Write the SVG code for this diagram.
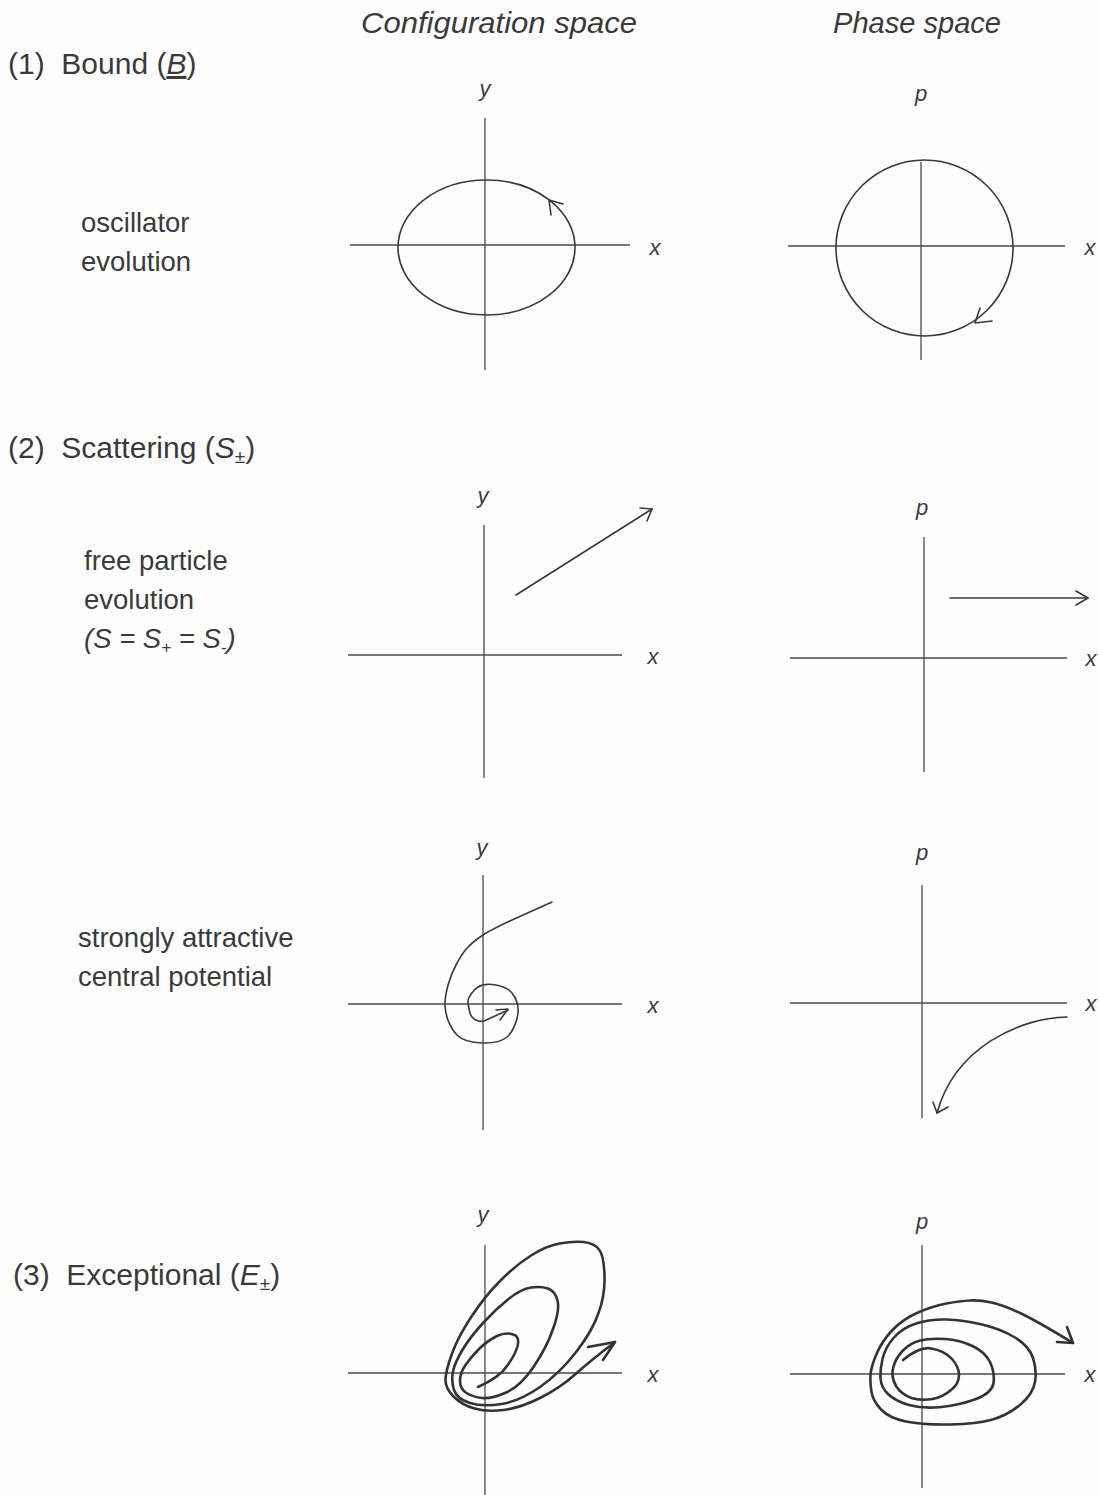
<svg xmlns="http://www.w3.org/2000/svg" width="1099" height="1495" viewBox="0 0 1099 1495">
<style>
.bg{fill:#fdfdfd}
.hd{font-family:"Liberation Sans",Arial,sans-serif;font-style:italic;font-size:30px;fill:#3a3a3a}
.sec{font-family:"Liberation Sans",Arial,sans-serif;font-size:30px;fill:#3a3a3a;white-space:pre}
.lbl{font-family:"Liberation Sans",Arial,sans-serif;font-size:27.5px;fill:#3a3a3a}
.ax{font-family:"Liberation Sans",Arial,sans-serif;font-style:italic;font-size:22px;fill:#3a3a3a;text-anchor:middle}
.axis{stroke:#4a4a4a;stroke-width:1.3;fill:none}
.cv{stroke:#383838;stroke-width:1.6;fill:none;stroke-linecap:round;stroke-linejoin:round}
.cv2{stroke:#333;stroke-width:2.6;fill:none;stroke-linecap:round;stroke-linejoin:round}
</style>
<rect class="bg" x="0" y="0" width="1099" height="1495"/>

<g id="headers">
<text class="hd" x="361" y="33" textLength="276" lengthAdjust="spacingAndGlyphs">Configuration space</text>
<text class="hd" x="833" y="33" textLength="168" lengthAdjust="spacingAndGlyphs">Phase space</text>
</g>

<g id="labels">
<text class="sec" x="8" y="74" xml:space="preserve">(1)  Bound (<tspan font-style="italic" text-decoration="underline">B</tspan>)</text>
<text class="lbl" x="81" y="232">oscillator</text>
<text class="lbl" x="81" y="271">evolution</text>
<text class="sec" x="8" y="458" xml:space="preserve">(2)  Scattering (<tspan font-style="italic">S</tspan><tspan font-size="19" dy="5">±</tspan><tspan dy="-5">)</tspan></text>
<text class="lbl" x="84" y="570">free particle</text>
<text class="lbl" x="84" y="609">evolution</text>
<text class="lbl" x="84" y="648" font-style="italic">(S = S<tspan font-size="17" dy="5">+</tspan><tspan dy="-5"> = S</tspan><tspan font-size="17" dy="5">-</tspan><tspan dy="-5">)</tspan></text>
<text class="lbl" x="78" y="947">strongly attractive</text>
<text class="lbl" x="78" y="986">central potential</text>
<text class="sec" x="13" y="1285" xml:space="preserve">(3)  Exceptional (<tspan font-style="italic">E</tspan><tspan font-size="19" dy="5">±</tspan><tspan dy="-5">)</tspan></text>
</g>

<g id="bound-config">
<line class="axis" x1="485" y1="118" x2="485" y2="370"/>
<line class="axis" x1="350" y1="245" x2="630" y2="245"/>
<text class="ax" x="485" y="96">y</text>
<text class="ax" x="655" y="255">x</text>
<ellipse class="cv" cx="486.5" cy="247.5" rx="88.5" ry="67.5"/>
<polyline class="cv" points="563,204 549,200 551,215"/>
</g>

<g id="bound-phase">
<line class="axis" x1="921" y1="162" x2="921" y2="360"/>
<line class="axis" x1="788" y1="246" x2="1065" y2="246"/>
<text class="ax" x="921" y="101">p</text>
<text class="ax" x="1090" y="255">x</text>
<ellipse class="cv" cx="924.5" cy="248" rx="88.5" ry="88"/>
<polyline class="cv" points="980,308 975,323 992,321"/>
</g>

<g id="free-config">
<line class="axis" x1="484" y1="525" x2="484" y2="778"/>
<line class="axis" x1="348" y1="655" x2="622" y2="655"/>
<text class="ax" x="483" y="503">y</text>
<text class="ax" x="653" y="664">x</text>
<line class="cv" x1="516" y1="595" x2="652" y2="509"/>
<polyline class="cv" points="640,508 652,509 647,521"/>
</g>

<g id="free-phase">
<line class="axis" x1="924" y1="537" x2="924" y2="772"/>
<line class="axis" x1="790" y1="658" x2="1067" y2="658"/>
<text class="ax" x="922" y="515">p</text>
<text class="ax" x="1091" y="666">x</text>
<line class="cv" x1="950" y1="598" x2="1088" y2="598"/>
<polyline class="cv" points="1076,591 1088,598 1076,605"/>
</g>

<g id="attractive-config">
<line class="axis" x1="483" y1="875" x2="483" y2="1130"/>
<line class="axis" x1="348" y1="1004" x2="622" y2="1004"/>
<text class="ax" x="482" y="855">y</text>
<text class="ax" x="653" y="1013">x</text>
<path class="cv" d="M552,902 C540.5,907.5 499,924.5 483,935 C467,945.5 462.3,953.3 456,965 C449.7,976.7 444.8,993.3 445,1005 C445.2,1016.7 450.8,1028.7 457,1035 C463.2,1041.3 473.7,1042.7 482,1043 C490.3,1043.3 501,1042 507,1037 C513,1032 517.2,1020.3 518,1013 C518.8,1005.7 515.7,997.7 512,993 C508.3,988.3 501.7,986 496,985 C490.3,984 482.7,984 478,987 C473.3,990 467,998 468,1003 C469,1008 469.3,1014 472,1017 C474.7,1020 478,1022.3 484,1021 L508,1010"/>
<polyline class="cv" points="496,1010 508,1009 500,1020"/>
</g>

<g id="attractive-phase">
<line class="axis" x1="922" y1="885" x2="922" y2="1118"/>
<line class="axis" x1="790" y1="1003" x2="1067" y2="1003"/>
<text class="ax" x="922" y="860">p</text>
<text class="ax" x="1091" y="1011">x</text>
<path class="cv" d="M1067,1017 C1020,1018 955,1047 937,1113"/>
<polyline class="cv" points="933,1102 937,1113 948,1107"/>
</g>

<g id="exceptional-config">
<line class="axis" x1="485" y1="1245" x2="485" y2="1495"/>
<line class="axis" x1="348" y1="1373" x2="622" y2="1373"/>
<text class="ax" x="483" y="1222">y</text>
<text class="ax" x="653" y="1382">x</text>
<path class="cv2" d="M478,1387 Q500,1377 507,1366 Q515,1355 517.5,1346.5 Q520,1336 513,1334.5 Q506,1332 497,1336 Q487,1341 479,1349 Q471,1357 465.5,1365 Q460,1373 460,1381 Q460,1389 466.5,1393 Q473,1397 482,1398 Q491,1399 505,1393 Q520,1387 533.5,1367 Q547,1347 553,1329 Q560,1310 557.5,1300.5 Q555,1291 548,1288.5 Q541,1286 531,1287.5 Q521,1289 508.5,1299 Q496,1309 483.5,1322.5 Q471,1336 463,1349 Q455,1362 453,1371.5 Q451,1381 454,1390 Q457,1399 470,1403 Q483,1407 501.5,1404 Q520,1401 540,1387 Q560,1373 576.5,1351.5 Q593,1330 598.5,1313 Q605,1296 604.5,1276.5 Q604,1255 599,1249.5 Q594,1243 583.5,1242 Q573,1241 559.5,1243.5 Q546,1246 531,1255.5 Q516,1265 500.5,1280.5 Q485,1296 471.5,1316.5 Q458,1337 452,1353.5 Q446,1370 445.5,1379 Q445,1388 453.5,1396.5 Q462,1405 474.5,1408.5 Q487,1412 503.5,1410 Q520,1408 540,1398 Q560,1388 575,1374.5 Q590,1361 615,1342"/>
<polyline class="cv2" points="588,1347 615,1342 603,1360"/>
</g>

<g id="exceptional-phase">
<line class="axis" x1="922" y1="1245" x2="922" y2="1488"/>
<line class="axis" x1="790" y1="1374" x2="1065" y2="1374"/>
<text class="ax" x="922" y="1229">p</text>
<text class="ax" x="1090" y="1382">x</text>
<path class="cv2" d="M903,1360 Q920,1346 931.5,1348.5 Q945,1351 952,1359 Q959,1367 959,1375 Q959,1384 951,1390 Q943,1397 932.5,1399 Q922,1401 911.5,1398 Q901,1394 896,1386 Q891,1377 893,1368.5 Q895,1359 902.5,1351 Q910,1343 920,1340.5 Q930,1338 945,1339 Q960,1340 972.5,1346 Q985,1352 990,1362 Q995,1373 993.5,1383 Q992,1393 976,1399 Q960,1405 941.5,1407 Q923,1409 909,1405 Q895,1401 888,1394 Q881,1387 880.5,1378.5 Q880,1370 882.5,1359 Q885,1348 893.5,1338 Q902,1328 916,1323.5 Q930,1319 946.5,1319.5 Q963,1320 982,1324.5 Q1001,1329 1015,1337.5 Q1029,1346 1033,1358 Q1037,1370 1035,1382 Q1033,1394 1020.5,1404.5 Q1008,1415 992.5,1419.5 Q977,1424 950,1424.5 Q923,1425 906,1421.5 Q889,1418 881,1409.5 Q873,1401 871.5,1392 Q870,1383 870.5,1375 Q871,1367 876.5,1354 Q882,1341 892.5,1330 Q903,1319 918,1312.5 Q933,1306 946.5,1303.5 Q960,1301 970,1300.5 Q980,1300 991.5,1302.5 Q1003,1305 1020,1313 Q1037,1321 1073,1343"/>
<polyline class="cv2" points="1057,1342 1073,1343 1067,1327"/>
</g>
</svg>
